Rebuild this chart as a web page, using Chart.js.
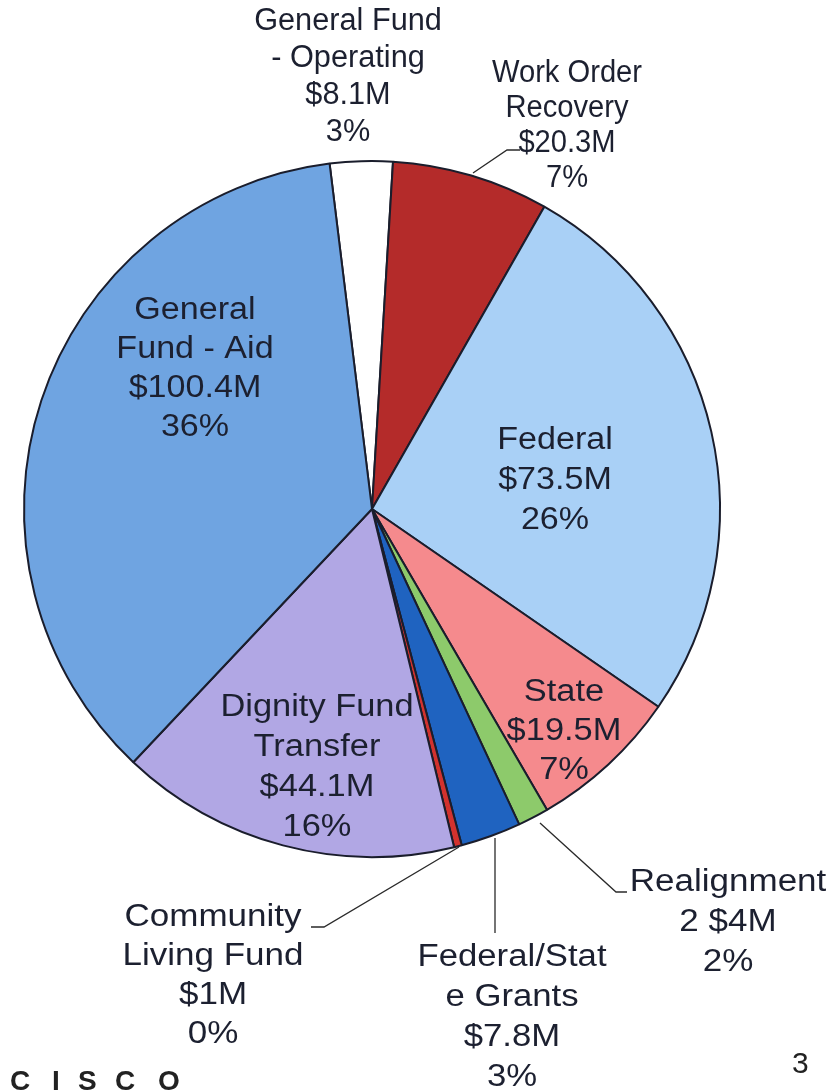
<!DOCTYPE html>
<html>
<head>
<meta charset="utf-8">
<script src="https://cdn.jsdelivr.net/npm/chart.js@4/dist/chart.umd.min.js"></script>
<style>
    html, body { margin: 0; padding: 0; background: #ffffff; }
    #wrap { width: 837px; height: 1092px; position: relative; }
</style>
</head>
<body>
<div id="wrap"><canvas id="pie" width="837" height="1092"></canvas></div>
<script>
// slice data, clockwise from the top
const categories = [
    "General Fund - Operating", "Work Order Recovery", "Federal", "State",
    "Realignment 2", "Federal/State Grants", "Community Living Fund",
    "Dignity Fund Transfer", "General Fund - Aid"
];
const amounts = [8.1, 20.3, 73.5, 19.5, 4, 7.8, 1, 44.1, 100.4];
const amountLabels = ["$8.1M", "$20.3M", "$73.5M", "$19.5M", "$4M", "$7.8M", "$1M", "$44.1M", "$100.4M"];
const percentLabels = ["3%", "7%", "26%", "7%", "2%", "3%", "0%", "16%", "36%"];
const colors = ["#ffffff", "#b42b2a", "#a9d0f6", "#f58a8d", "#8dca6b", "#1f63c0", "#d2322e", "#b1a7e4", "#6fa4e1"];

// label text lines and where they sit (sx = horizontal stretch of the scan)
const labelText = [
    ["General Fund", "- Operating", amountLabels[0], percentLabels[0]],
    ["Work Order", "Recovery", amountLabels[1], percentLabels[1]],
    ["Federal", amountLabels[2], percentLabels[2]],
    ["State", amountLabels[3], percentLabels[3]],
    ["Realignment", "2 " + amountLabels[4], percentLabels[4]],
    ["Federal/Stat", "e Grants", amountLabels[5], percentLabels[5]],
    ["Community", "Living Fund", amountLabels[6], percentLabels[6]],
    ["Dignity Fund", "Transfer", amountLabels[7], percentLabels[7]],
    ["General", "Fund - Aid", amountLabels[8], percentLabels[8]]
];
const labelPos = [
    { x: 348, y: 21, lh: 37, sx: 0.99 },
    { x: 567, y: 73, lh: 35, sx: 0.94 },
    { x: 555, y: 440, lh: 40, sx: 1.1 },
    { x: 564, y: 692, lh: 39, sx: 1.11 },
    { x: 728, y: 882, lh: 40, sx: 1.13 },
    { x: 512, y: 957, lh: 40, sx: 1.12 },
    { x: 213, y: 917, lh: 39, sx: 1.13 },
    { x: 317, y: 707, lh: 40, sx: 1.11 },
    { x: 195, y: 310, lh: 39, sx: 1.1 }
];
// leader lines for the small outside slices
const leaders = [
    [[473, 173], [507, 150], [520, 150]],
    [[540, 823], [616, 892], [627, 892]],
    [[495, 838], [495, 933]],
    [[459, 847], [324, 927], [311, 927]]
];

const labelPlugin = {
    id: "sliceLabels",
    afterDraw(chart) {
        const ctx = chart.ctx;
        ctx.save();
        ctx.strokeStyle = "#2a2a2a";
        ctx.lineWidth = 1.3;
        leaders.forEach(pts => {
            ctx.beginPath();
            ctx.moveTo(pts[0][0], pts[0][1]);
            for (let i = 1; i < pts.length; i++) ctx.lineTo(pts[i][0], pts[i][1]);
            ctx.stroke();
        });

        ctx.fillStyle = "#1c2030";
        ctx.font = "31px 'Liberation Sans', Arial, sans-serif";
        ctx.textAlign = "center";
        ctx.textBaseline = "middle";
        labelText.forEach((lines, i) => {
            const p = labelPos[i];
            lines.forEach((t, j) => {
                ctx.save();
                ctx.translate(p.x, p.y + j * p.lh);
                ctx.scale(p.sx, 1);
                ctx.fillText(t, 0, 0);
                ctx.restore();
            });
        });

        // footer
        ctx.fillStyle = "#222222";
        ctx.font = "bold 28px 'Liberation Sans', Arial, sans-serif";
        ctx.textAlign = "left";
        const footX = [10, 52, 78, 115, 158];
        "CISCO".split("").forEach((c, i) => ctx.fillText(c, footX[i], 1082));
        ctx.font = "30px 'Liberation Sans', Arial, sans-serif";
        ctx.fillText("3", 792, 1065);
        ctx.restore();
    }
};

new Chart(document.getElementById("pie").getContext("2d"), {
    type: "pie",
    data: {
        labels: categories,
        datasets: [{
            data: amounts,
            backgroundColor: colors,
            borderColor: "#1a1d2c",
            borderWidth: 2
        }]
    },
    options: {
        responsive: false,
        animation: false,
        rotation: -7,
        layout: { padding: { left: 23, right: 116, top: 160, bottom: 234 } },
        plugins: {
            legend: { display: false },
            tooltip: { enabled: false }
        }
    },
    plugins: [labelPlugin]
});
</script>
</body>
</html>
